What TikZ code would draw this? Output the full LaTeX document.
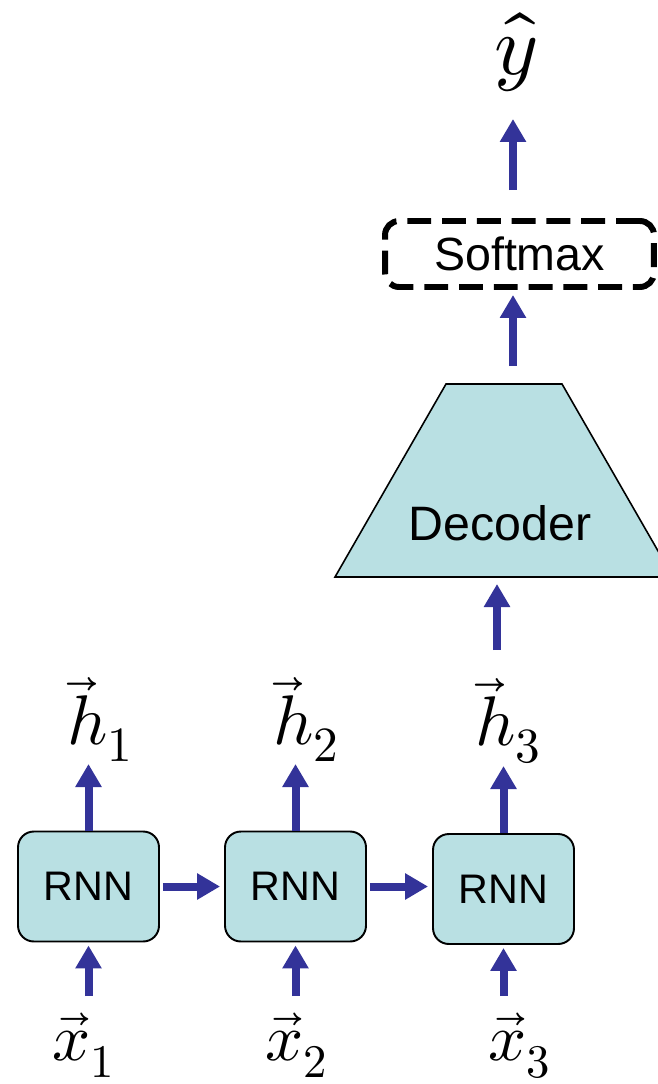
\documentclass[tikz,border=0pt]{standalone}
\usepackage{fontspec}
\usepackage{unicode-math}
\setmainfont{Liberation Sans}
\setmathfont{Latin Modern Math}
\usetikzlibrary{shapes.geometric, arrows.meta, positioning}
\definecolor{cell}{RGB}{185, 224, 227}
\definecolor{flowblue}{RGB}{51, 51, 153}

\begin{document}
\begin{tikzpicture}[x=0.02cm, y=-0.02cm,
    rnnbox/.style={rectangle, rounded corners=9pt, draw, line width=1.1pt, fill=cell,
                   minimum width=2.82cm, minimum height=2.2cm, font=\fontsize{23.5}{27}\selectfont},
    decshape/.style={draw, line width=0.9pt, fill=cell, line join=miter},
    softbox/.style={rectangle, rounded corners=8pt, draw, line width=3.4pt,
                    dash pattern=on 13.6pt off 6.2pt, minimum width=5.38cm, minimum height=1.32cm,
                    font=\fontsize{26.5}{30}\selectfont},
    flow/.style={-{Triangle[width=0.5cm, length=0.46cm]}, line width=0.16cm, flowblue},
    lbl/.style={inner sep=1pt, font=\fontsize{40}{46}\selectfont}]

    \useasboundingbox (0, 0) rectangle (658, 1084);
    \clip (0, 0) rectangle (658, 1084);

    % Encoder
    \node[rnnbox] (rnn1) at (88.5, 886.5) {RNN};
    \node[rnnbox] (rnn2) at (295.5, 886.5) {RNN};
    \node[rnnbox] (rnn3) at (503.5, 889) {RNN};

    \node[lbl, anchor=north, font=\fontsize{38}{44}\selectfont] (x1) at (84, 1011) {$\vec{x}_1$};
    \node[lbl, anchor=north, font=\fontsize{38}{44}\selectfont] (x2) at (297, 1011) {$\vec{x}_2$};
    \node[lbl, anchor=north, font=\fontsize{38}{44}\selectfont] (x3) at (520, 1011) {$\vec{x}_3$};

    \node[lbl, anchor=south] (h1) at (100, 764) {$\vec{h}_1$};
    \node[lbl, anchor=south] (h2) at (306, 764) {$\vec{h}_2$};
    \node[lbl, anchor=south] (h3) at (508, 766) {$\vec{h}_3$};

    % Decoder and output
    \draw[decshape] (335, 577) -- (446, 384) -- (562, 384) -- (673, 577) -- cycle;
    \coordinate (dectop) at (513, 384);
    \coordinate (decbot) at (497, 577);
    \node[font=\fontsize{27.5}{31}\selectfont] (dec) at (500, 523) {Decoder};
    \node[softbox] (soft) at (519.5, 254) {Softmax};
    \node[lbl, anchor=south, font=\fontsize{48}{54}\selectfont] (yhat) at (516, 94) {$\hat{y}$};

    % Arrows
    \foreach \i in {1, 2, 3} {
        \draw[flow, shorten <=0.3cm, shorten >=0.06cm] (rnn\i.south |- x\i.north) -- (rnn\i.south);
        \draw[flow] (rnn\i.north) -- (rnn\i.north |- h\i.south);
    }
    \draw[flow, shorten <=0.06cm, shorten >=0.08cm] (rnn1) -- (rnn2);
    \draw[flow, shorten <=0.06cm, shorten >=0.08cm] (rnn2.east) -- (rnn3.west |- rnn2.east);
    \draw[flow, shorten <=0.52cm, shorten >=0.14cm] (decbot |- h3.north) -- (decbot);
    \draw[flow, shorten <=0.36cm, shorten >=0.1cm] (dectop) -- (dectop |- soft.south);
    \draw[flow, shorten <=0.56cm, shorten >=0.5cm] (dectop |- soft.north) -- (dectop |- yhat.south);
\end{tikzpicture}
\end{document}
